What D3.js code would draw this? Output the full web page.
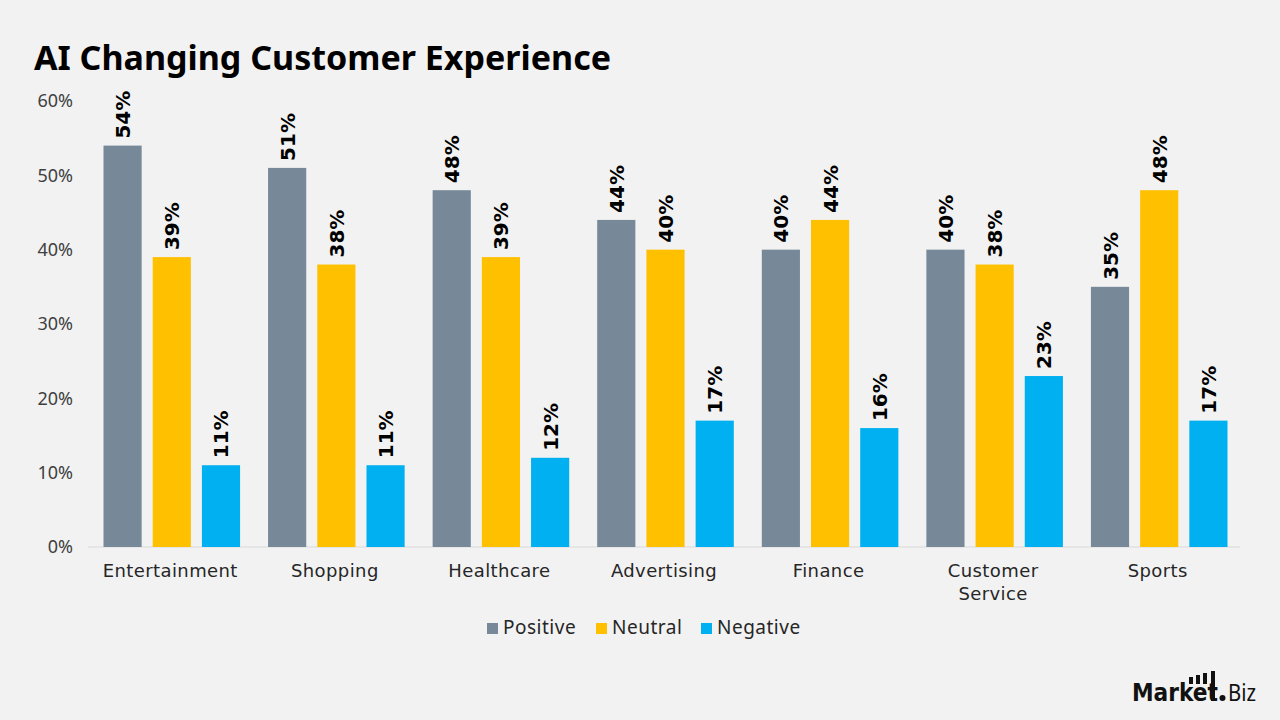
<!DOCTYPE html>
<html>
<head>
<meta charset="utf-8">
<script src="https://cdn.jsdelivr.net/npm/d3@7"></script>
<style>
  body { margin: 0; background: #f2f2f2; }
  svg { display: block; font-family: "Noto Sans", "Open Sans", sans-serif; }
</style>
</head>
<body>
<svg id="chart" width="1280" height="720"></svg>
<script>
// chart data
const categories = ["Entertainment", "Shopping", "Healthcare", "Advertising", "Finance", "Customer Service", "Sports"];
const seriesNames = ["Positive", "Neutral", "Negative"];
const positive = [54, 51, 48, 44, 40, 40, 35];
const neutral = [39, 38, 39, 40, 44, 38, 48];
const negative = [11, 11, 12, 17, 16, 23, 17];
const yTicks = [0, 10, 20, 30, 40, 50, 60];
const colors = ["#778899", "#ffc000", "#00b0f0"];

const values = [positive, neutral, negative];
const svg = d3.select("#chart");

svg.append("rect").attr("width", 1280).attr("height", 720).attr("fill", "#f2f2f2");

// title
svg.append("text")
  .attr("x", 34).attr("y", 70)
  .attr("font-size", 34).attr("font-weight", 700)
  .attr("fill", "#000")
  .attr("textLength", 577).attr("lengthAdjust", "spacingAndGlyphs")
  .text("AI Changing Customer Experience");

let plotLeft = 88, plotRight = 1240, plotTop = 101, plotBottom = 547;

let x0 = d3.scaleBand().domain(categories).range([plotLeft, plotRight]);
let x1 = d3.scaleBand().domain(seriesNames)
  .range([15.5, x0.bandwidth() - 12.5])
  .paddingInner(0.2245);
let y = d3.scaleLinear().domain([0, 60]).range([plotBottom, plotTop]);

// y axis
let yAxis = d3.axisLeft(y).tickValues(yTicks).tickSize(0).tickPadding(15)
  .tickFormat(d => d + "%");
let gy = svg.append("g").attr("transform", "translate(" + plotLeft + ",0)").call(yAxis);
gy.select(".domain").remove();
gy.selectAll("text").attr("font-size", 18).attr("fill", "#404040")
  .attr("font-family", "Noto Sans, sans-serif");

// baseline
svg.append("line")
  .attr("x1", plotLeft).attr("x2", plotRight)
  .attr("y1", y(0)).attr("y2", y(0))
  .attr("stroke", "#d9d9d9").attr("stroke-width", 1);

// bars
let groups = svg.selectAll("g.grp").data(categories).enter().append("g")
  .attr("class", "grp")
  .attr("transform", d => "translate(" + x0(d) + ",0)");

groups.each(function (cat, ci) {
  let g = d3.select(this);
  seriesNames.forEach(function (s, si) {
    let v = values[si][ci];
    g.append("rect")
      .attr("x", x1(s))
      .attr("y", y(v))
      .attr("width", x1.bandwidth())
      .attr("height", y(0) - y(v))
      .attr("fill", colors[si]);
    let cx = x1(s) + x1.bandwidth() / 2;
    let ty = y(v) - 7;
    g.append("text")
      .attr("transform", "translate(" + (cx + 7.5) + "," + ty + ") rotate(-90)")
      .attr("font-size", 20).attr("font-weight", 700)
      .attr("font-family", "DejaVu Sans, sans-serif")
      .attr("fill", "#000")
      .text(v + "%");
  });
});

// category labels (long names wrap onto two lines)
let wrap = { "Customer Service": ["Customer", "Service"] };
categories.forEach(function (c) {
  let lines = wrap[c] || [c];
  lines.forEach(function (l, i) {
    svg.append("text")
      .attr("x", x0(c) + x0.bandwidth() / 2)
      .attr("y", 577 + i * 23)
      .attr("text-anchor", "middle")
      .attr("font-family", "DejaVu Sans, sans-serif")
      .attr("font-size", 18).attr("letter-spacing", 0.4)
      .attr("fill", "#262626")
      .text(l);
  });
});

// legend
let legendX = [487, 596, 701];
seriesNames.forEach(function (s, i) {
  svg.append("rect").attr("x", legendX[i]).attr("y", 623)
    .attr("width", 11).attr("height", 11).attr("fill", colors[i]);
  svg.append("text").attr("x", legendX[i] + 16).attr("y", 634)
    .attr("font-size", 19).attr("letter-spacing", 0.5)
    .attr("fill", "#262626").text(s);
});

// logo
let logo = svg.append("g");
logo.append("text").attr("x", 1132).attr("y", 701)
  .attr("font-size", 24).attr("font-weight", 700).attr("fill", "#111")
  .attr("font-family", "DejaVu Sans, sans-serif")
  .attr("textLength", 86).attr("lengthAdjust", "spacingAndGlyphs")
  .text("Market");
logo.append("circle").attr("cx", 1222.5).attr("cy", 698).attr("r", 3).attr("fill", "#111");
logo.append("text").attr("x", 1228).attr("y", 701)
  .attr("font-size", 24).attr("fill", "#111")
  .attr("textLength", 28).attr("lengthAdjust", "spacingAndGlyphs")
  .text("Biz");
[[1189, 7], [1196, 9], [1203, 11]].forEach(function (b) {
  logo.append("rect").attr("x", b[0]).attr("y", 684 - b[1]).attr("width", 4).attr("height", b[1]).attr("fill", "#111");
});
logo.append("rect").attr("x", 1211).attr("y", 671).attr("width", 4).attr("height", 30).attr("fill", "#111");
</script>
</body>
</html>
